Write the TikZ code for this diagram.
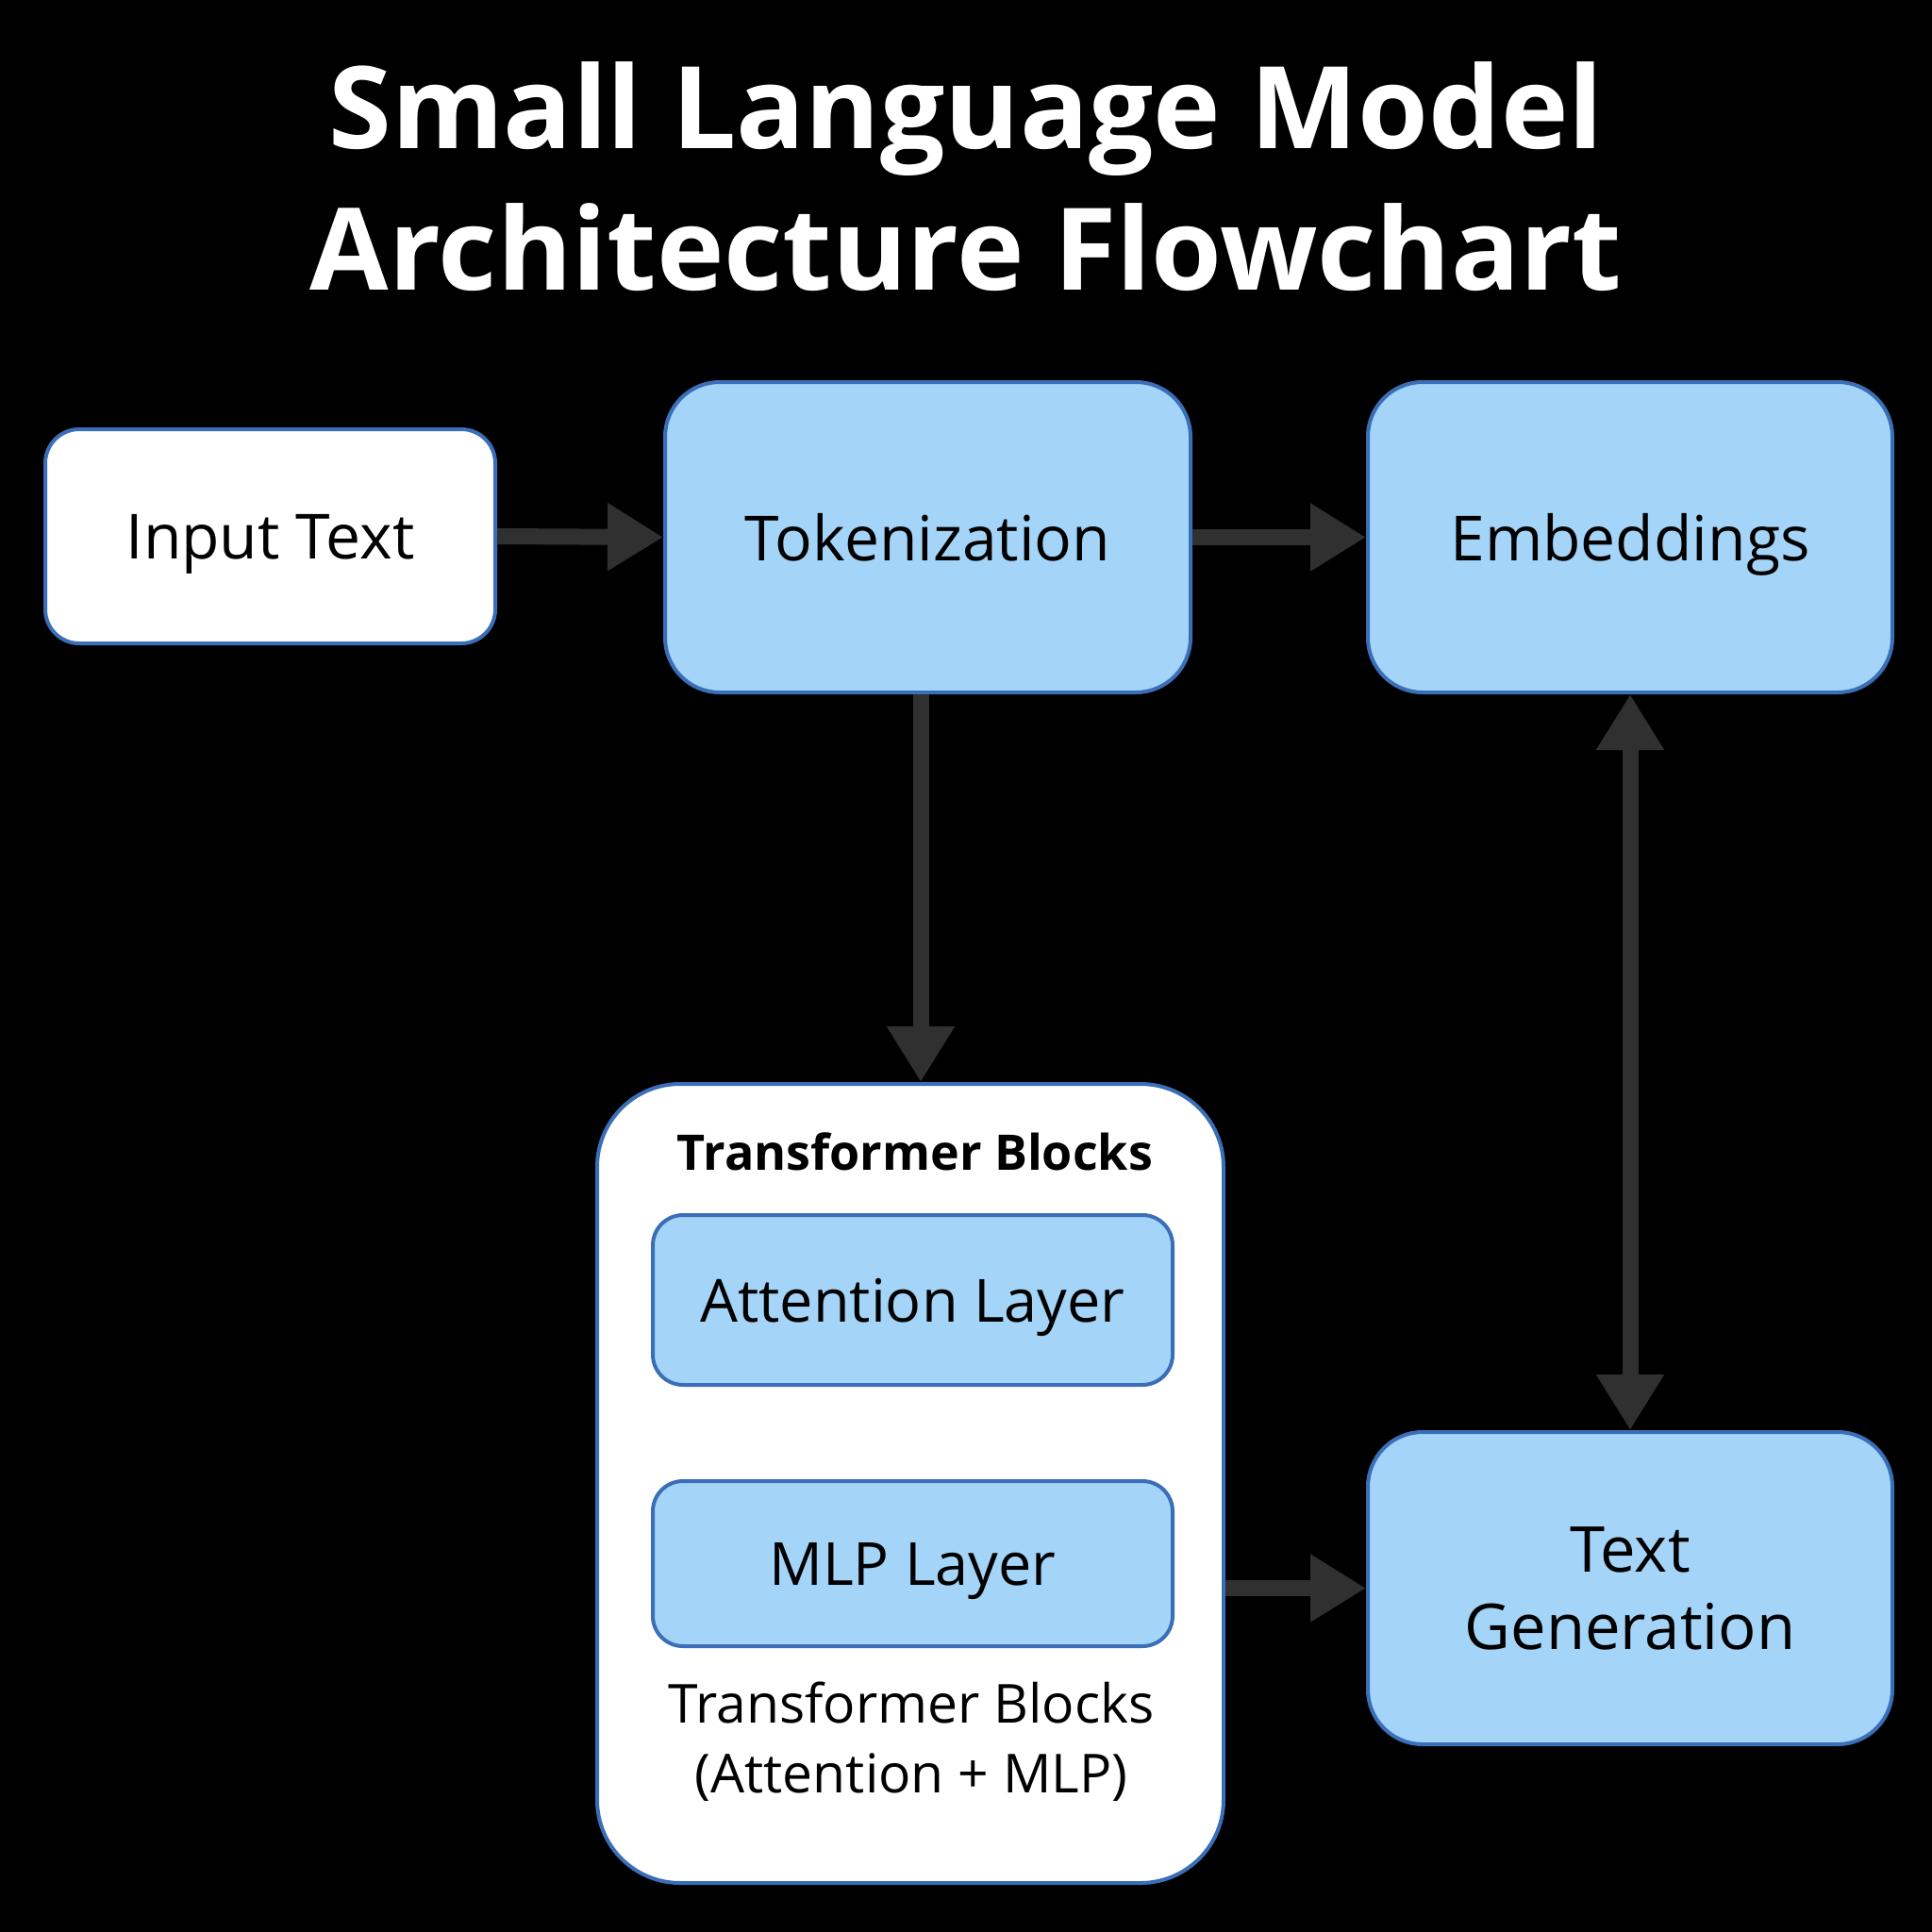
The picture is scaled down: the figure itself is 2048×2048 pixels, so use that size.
\documentclass[tikz,border=0pt]{standalone}
\usepackage{fontspec}
\setmainfont{Open Sans}
\usetikzlibrary{arrows.meta,calc}
\definecolor{boxblue}{RGB}{164,213,248}
\definecolor{edgeblue}{RGB}{58,110,182}
\definecolor{arrowgray}{RGB}{48,48,48}
\tikzset{
  bluebox/.style={draw=edgeblue, line width=4pt, fill=boxblue, rounded corners=58pt, inner sep=0pt, text=black, font=\fontsize{66}{80}\selectfont},
  whitebox/.style={draw=edgeblue, line width=4pt, fill=white, inner sep=0pt, text=black},
  layerbox/.style={draw=edgeblue, line width=4pt, fill=boxblue, rounded corners=32pt, inner sep=0pt, text=black, font=\fontsize{63}{76}\selectfont, text depth=0pt},
  flowarrow/.style={draw=arrowgray, line width=17pt, -{Triangle[length=59pt,width=68pt]}},
  botharrow/.style={draw=arrowgray, line width=17pt, {Triangle[length=59pt,width=68pt]}-{Triangle[length=59pt,width=68pt]}},
  titletext/.style={text=white, font=\bfseries\fontsize{121}{140}\selectfont, inner sep=0pt, anchor=base}
}
\begin{document}
\begin{tikzpicture}[x=1pt,y=-1pt]
\fill[black] (0,0) rectangle (2048,2048);
\useasboundingbox (0,0) rectangle (2048,2048);

% title
\node[titletext] (t1) at (1024,157) {Small Language Model};
\node[titletext] (t2) at (1024,307) {Architecture Flowchart};

% boxes
\node[whitebox, rounded corners=36pt, minimum width=477pt, minimum height=227pt, font=\fontsize{66}{80}\selectfont, text depth=0pt] (inp) at (286.5,568.5) {Input Text};
\node[bluebox, minimum width=557pt, minimum height=329pt, text depth=0pt] (tok) at (983.5,569.5) {Tokenization};
\node[bluebox, minimum width=556pt, minimum height=329pt, text depth=0pt] (emb) at (1728,569.5) {Embeddings};
\node[whitebox, rounded corners=88pt, minimum width=664pt, minimum height=847pt] (trans) at (965,1572.5) {};
\node[text=black, font=\bfseries\fontsize{52}{62}\selectfont, inner sep=0pt] (tbtitle) at (970,1221) {Transformer Blocks};
\node[layerbox, minimum width=551pt, minimum height=180pt] (att) at (967.5,1378) {Attention Layer};
\node[layerbox, minimum width=551pt, minimum height=175pt] (mlp) at (967.5,1657.5) {MLP Layer};
\node[text=black, font=\fontsize{57}{74}\selectfont, align=center, inner sep=0pt] (tbnote) at (966,1846) {Transformer Blocks\\(Attention + MLP)};
\node[bluebox, minimum width=556pt, minimum height=331pt, align=center, font=\fontsize{67}{82}\selectfont] (gen) at (1728,1683.5) {Text\\Generation};

% connectors
\coordinate (downx) at (976,0);
\draw[flowarrow] (inp.east) -- (tok.west);
\draw[flowarrow] (tok.east) -- (emb.west);
\draw[flowarrow] (tok.south -| downx) -- (trans.north -| downx);
\draw[botharrow] (emb.south) -- (gen.north);
\draw[flowarrow] (trans.east |- gen.west) -- (gen.west);
\end{tikzpicture}
\end{document}
